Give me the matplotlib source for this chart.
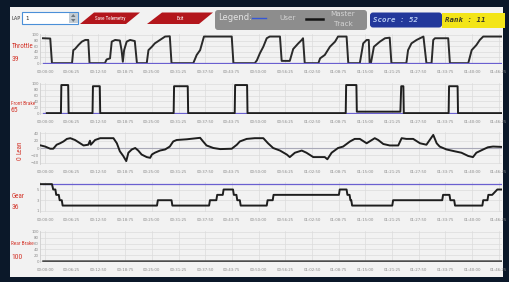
import matplotlib.pyplot as plt
import numpy as np
from matplotlib.patches import Rectangle, Polygon, FancyBboxPatch

W, H = 509, 282

tick_times = [0, 6.25, 12.5, 18.75, 25, 31.25, 37.5, 43.75, 50, 56.25,
              62.5, 68.75, 75, 81.25, 87.5, 93.75, 100, 106.25]
tick_labels = ["00:00:00", "00:06:25", "00:12:50", "00:18:75", "00:25:00",
               "00:31:25", "00:37:50", "00:43:75", "00:50:00", "00:56:25",
               "01:02:50", "01:08:75", "01:15:00", "01:21:25", "01:27:50",
               "01:33:75", "01:40:00", "01:46:25"]

# master track, (time s, value)
throttle = [(-0.5, 88), (1.2, 87), (1.6, 0), (6.3, 0), (6.6, 46), (7.0, 50), (7.8, 64),
            (8.6, 76), (9.4, 82), (10.1, 82), (10.4, 0), (14.0, 0), (14.4, 13), (15.2, 17),
            (15.6, 76), (16.4, 82), (17.5, 80), (17.9, 46), (18.2, 5), (18.5, 46), (19.1, 76),
            (19.9, 82), (21.0, 78), (21.5, 0), (23.8, 0), (24.2, 46), (25.0, 58), (25.7, 70),
            (26.9, 82), (28.1, 94), (29.2, 95), (29.6, 0), (34.7, 0), (35.5, 29), (36.3, 46),
            (37.2, 94), (43.7, 94), (44.1, 0), (49.1, 0), (49.6, 10), (50.3, 35), (51.1, 58),
            (51.9, 88), (52.6, 94), (55.0, 94), (55.4, 8), (57.3, 8), (57.7, 29), (58.1, 50),
            (59.3, 70), (60.1, 82), (60.4, 88), (60.8, 0), (64.0, 0), (64.4, 17), (65.5, 29),
            (66.7, 58), (67.9, 76), (68.6, 94), (70.6, 94), (71.0, 0), (73.7, 0), (74.5, 70),
            (75.3, 82), (75.8, 82), (76.0, 0), (76.3, 0), (77.0, 58), (78.4, 76), (79.6, 88),
            (80.7, 90), (81.1, 0), (84.6, 0), (85.0, 46), (85.8, 70), (87.0, 82), (87.8, 88),
            (88.6, 94), (89.3, 0), (90.5, 0), (90.9, 82), (91.3, 88), (94.4, 88), (94.8, 0),
            (99.1, 0), (99.9, 46), (101.0, 64), (101.8, 82), (102.6, 94), (106.9, 94)]

front_brake = [(0.4, 0), (3.7, 0), (3.8, 96), (5.4, 96), (5.5, 0), (11.1, 0), (11.2, 92),
               (12.8, 92), (12.9, 0), (30.1, 0), (30.2, 92), (33.4, 92), (33.5, 0), (44.4, 0),
               (44.5, 96), (47.3, 96), (47.4, 0), (70.4, 0), (70.5, 96), (72.9, 96), (73.0, 5),
               (83.2, 5), (83.4, 92), (83.9, 92), (84.0, 0), (94.5, 0), (94.6, 92), (96.6, 92),
               (96.7, 0), (106.9, 0)]

lean = [(-1.0, 7), (0, 4), (1.2, -2), (1.9, -2), (2.7, 9), (3.5, 13), (4.3, 18), (5.1, 25),
        (5.9, 27), (7.0, 22), (8.2, 13), (9.0, 7), (10.1, 9), (10.5, 20), (10.7, 9), (11.7, 22),
        (12.9, 27), (16.0, 27), (16.8, 13), (17.5, -9), (18.3, -22), (19.0, -36), (19.5, -13),
        (20.3, -4), (21.1, 0), (21.8, -7), (22.6, -18), (23.8, -25), (24.6, -27), (25.0, -18),
        (25.7, -13), (26.9, -7), (28.1, -4), (29.2, 4), (30.0, 18), (30.8, 22), (33.2, 24),
        (36.3, 28), (37.0, 18), (37.8, 7), (39.4, 0), (41.0, -3), (43.7, -2), (44.9, 9),
        (45.6, 18), (47.2, 25), (49.1, 27), (51.1, 27), (52.2, 13), (53.4, 0), (55.0, -7),
        (56.6, -18), (57.3, -25), (58.5, -13), (60.1, -7), (61.2, -13), (62.8, -25), (65.5, -25),
        (66.1, -31), (67.1, -13), (68.6, 0), (69.8, 4), (71.4, 18), (72.5, 25), (73.7, 25),
        (75.3, 13), (77.2, 27), (78.0, 22), (79.2, 11), (80.7, 7), (82.7, 7), (83.5, 27),
        (84.6, 25), (86.2, 25), (87.8, 13), (89.3, 9), (90.9, 36), (91.7, 13), (92.4, 4),
        (94.0, -4), (95.9, -9), (97.5, -13), (99.1, -22), (100.2, -25), (101.0, -13),
        (102.6, -4), (103.7, 2), (104.9, 4), (106.9, 3)]

gear = [(-1.2, 6), (1.6, 6), (1.9, 5), (2.4, 5), (2.6, 4), (3.2, 4), (3.4, 3), (3.9, 3),
        (4.1, 2), (26.2, 2), (26.4, 3), (29.6, 3), (29.8, 2), (38.4, 2), (38.6, 3), (40.1, 3),
        (40.3, 4), (41.6, 4), (41.8, 5), (44.0, 5), (44.2, 4), (44.8, 4), (45.0, 3), (45.6, 3),
        (45.8, 2), (51.9, 2), (52.1, 3), (53.3, 3), (53.5, 4), (68.8, 4), (69.0, 5), (70.6, 5),
        (70.8, 4), (71.3, 4), (71.5, 3), (71.7, 3), (71.9, 2), (81.3, 2), (81.5, 3), (93.0, 3),
        (93.2, 4), (94.7, 4), (94.9, 3), (95.8, 3), (96.0, 2), (102.4, 2), (102.6, 3),
        (103.6, 3), (103.8, 4), (104.7, 4), (105.9, 5), (106.9, 5)]

rear_brake = [(-0.5, 0), (106.9, 0)]

# user series is flat
user_throttle = 0
user_front = 0
user_lean = 0
user_gear = 6
user_rear = 0

names = ["Throttle", "Front Brake", "Lean", "Gear", "Rear Brake"]
readouts = ["39", "65", "0", "36", "100"]

score = 52
rank = 11

BG = "#0b1829"
PANEL = "#f2f2f2"
RED = "#d4372c"
PURPLE = "#6a5fd0"
MASTER = "#1e1e1e"
NARROW = ["Noto Sans ExtraCondensed", "Noto Sans Condensed", "Liberation Sans Narrow",
          "Roboto Condensed", "Roboto", "DejaVu Sans"]

fig = plt.figure(figsize=(W / 100, H / 100), dpi=100, facecolor=BG)

# pixel overlay for the window furniture
bg = fig.add_axes([0, 0, 1, 1])
bg.set_xlim(0, W)
bg.set_ylim(H, 0)
bg.axis("off")
bg.add_patch(Rectangle((10, 7), 493, 270, fc=PANEL, ec="none"))

# toolbar
bg.text(12, 18, "LAP", fontsize=3.5, color="#333333", va="center")
bg.add_patch(Rectangle((22, 12), 56, 12, fc="white", ec="#4a8fd8", lw=0.8))
bg.add_patch(Rectangle((69, 12.6), 8.6, 10.8, fc="#c3ccd4", ec="none"))
bg.add_patch(Polygon([(71, 17), (75.5, 17), (73.25, 14)], fc="#6d7880"))
bg.add_patch(Polygon([(71, 19), (75.5, 19), (73.25, 22)], fc="#6d7880"))
bg.text(25, 18, "1", fontsize=4, color="#222222", va="center")

bg.add_patch(Polygon([(80, 24), (94, 12.5), (140, 12.5), (126, 24)], fc="#b3161c"))
bg.text(110, 18.2, "Save Telemetry", fontsize=3.6, color="white", ha="center", va="center",
        family=NARROW)
bg.add_patch(Polygon([(147, 24), (162, 12.5), (213, 12.5), (199, 24)], fc="#b3161c"))
bg.text(180, 18.2, "Exit", fontsize=3.6, color="white", ha="center", va="center",
        family=NARROW)

bg.add_patch(FancyBboxPatch((215, 10), 152, 20, boxstyle="round,pad=0,rounding_size=3",
                            fc="#8d8d8d", ec="none"))
bg.text(218, 18, "Legend:", fontsize=6, color="#e4e4e4", va="center")
bg.plot([252, 266], [18, 18], color="#3556d6", lw=1.0)
bg.text(279, 18, "User", fontsize=5.2, color="#d3d3d3", va="center")
bg.plot([306, 323], [18.5, 18.5], color="#151515", lw=1.8)
bg.text(343, 13.5, "Master", fontsize=5.2, color="#d3d3d3", ha="center", va="center")
bg.text(343, 24.5, "Track", fontsize=5.2, color="#d3d3d3", ha="center", va="center")

bg.add_patch(FancyBboxPatch((370, 12.5), 72, 15, boxstyle="round,pad=0,rounding_size=3",
                            fc="#22389b", ec="none"))
bg.text(373, 20, f"Score : {score}", fontsize=5.3, color="#b4c9f2", va="center",
        family="DejaVu Sans Mono", weight="bold", style="italic")
bg.add_patch(Rectangle((442, 12.5), 63, 15, fc="#f3e518", ec="none"))
bg.text(445, 20, f"Rank : {rank}", fontsize=5.3, color="#3a3a28", va="center",
        family="DejaVu Sans Mono", weight="bold", style="italic")


def add_ax(top, bottom, left=40, right=502):
    return fig.add_axes([left / W, 1 - bottom / H, (right - left) / W, (bottom - top) / H])


panels = [
    (34, 64, (-3, 103), [0, 20, 40, 60, 80, 100], throttle, user_throttle),
    (83, 114, (-3, 103), [0, 20, 40, 60, 80, 100], front_brake, user_front),
    (132, 164, (-44, 44), [-40, -20, 0, 20, 40], lean, user_lean),
    (182, 212, (0.8, 6.4), [1, 3, 5], gear, user_gear),
    (231, 262, (-3, 103), [0, 20, 40, 60, 80, 100], rear_brake, user_rear),
]

# x, y of name, y of readout, name size
label_pos = [(11.5, 46.7, 58.8, 5.0), (11, 103.5, 109.8, 3.8), (20, 147.5, 158, 5.0),
             (11.5, 196.3, 207.3, 5.0), (11, 243.5, 257.3, 3.8)]

for i, (top, bottom, ylim, yticks, master, user) in enumerate(panels):
    ax = add_ax(top, bottom)
    ax.set_facecolor(PANEL)
    ax.set_xlim(-1.2, 107)
    ax.set_ylim(*ylim)
    ax.set_xticks(tick_times)
    ax.set_xticklabels(tick_labels)
    ax.set_yticks(yticks)
    ax.tick_params(length=0, labelsize=2.8, colors="#8a8a8a", pad=0.8)
    ax.tick_params(axis="x", pad=4)
    ax.grid(True, color="#dcdcdc", lw=0.5)
    for s in ["top", "right", "bottom"]:
        ax.spines[s].set_visible(False)
    ax.spines["left"].set_color("#cfcfcf")
    ax.spines["left"].set_linewidth(0.6)

    t, v = np.array(master, dtype=float).T
    if names[i] == "Lean":
        ax.axhline(user, color="#a9a9b8", lw=0.8, zorder=2)
        ax.plot(t, v, color=MASTER, lw=1.4, zorder=3)
    elif names[i] == "Throttle":
        ax.plot(t, v, color="#2a2a2a", lw=1.4, zorder=2)
        ax.plot([-0.5, 106.9], [user, user], color=PURPLE, lw=0.9, zorder=3)
    elif names[i] == "Rear Brake":
        ax.plot(t, v, color="#4d4d4d", lw=1.8, zorder=3)
    else:
        ax.plot([-0.5, 106.9], [user, user], color=PURPLE, lw=0.9, zorder=2)
        ax.plot(t, v, color=MASTER, lw=1.4, zorder=3)

    lx, y1, y2, fs = label_pos[i]
    rot = 90 if names[i] == "Lean" else 0
    ha = "left" if rot == 0 else "center"
    bg.text(lx, y1, names[i], fontsize=fs, color=RED, va="center", rotation=rot,
            ha=ha, family=NARROW)
    bg.text(lx, y2, readouts[i], fontsize=5.5, color=RED, va="center", rotation=rot,
            ha=ha, family=NARROW)

fig.savefig("out.png", dpi=100, facecolor=BG)
